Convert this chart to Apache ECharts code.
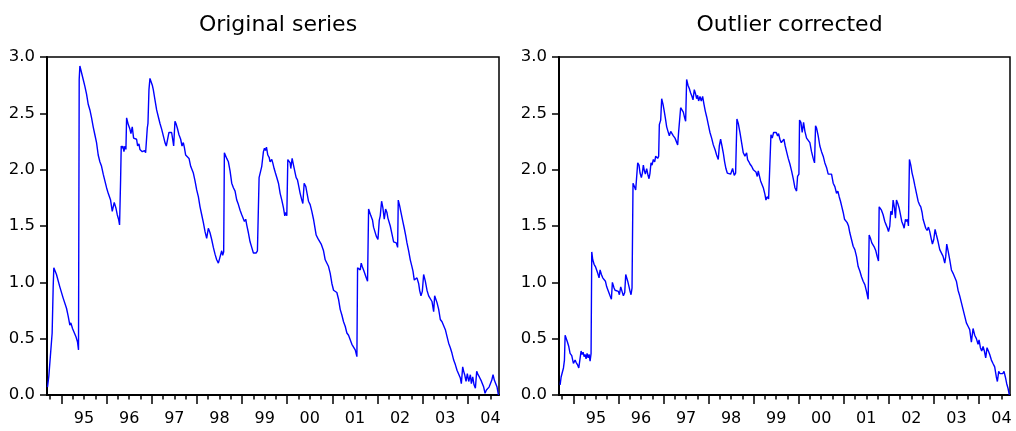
<!DOCTYPE html>
<html>
<head>
<meta charset="utf-8">
<script src="https://cdn.jsdelivr.net/npm/echarts@6/dist/echarts.min.js"></script>
<style>
html,body{margin:0;padding:0;background:#fff;}
#chart{width:1016px;height:431px;}
</style>
</head>
<body>
<div id="chart"></div>
<script>
// ---- Data (decimal years, values) ----
const panelTitles = ['Original series', 'Outlier corrected'];
const yearLabels = ['95','96','97','98','99','00','01','02','03','04'];
const firstYear = 1995;
const yTickLabels = ['0.0','0.5','1.0','1.5','2.0','2.5','3.0'];

const origTime = [
1994.691,1994.721,1994.743,1994.794,1994.817,1994.831,1994.890,1994.964,1995.038,1995.112,
1995.149,1995.186,1995.208,1995.245,1995.275,1995.319,1995.356,1995.378,1995.393,1995.408,
1995.445,1995.482,1995.519,1995.556,1995.593,1995.630,1995.667,1995.703,1995.740,1995.777,
1995.814,1995.851,1995.888,1995.925,1995.962,1995.999,1996.036,1996.058,1996.088,1996.125,
1996.169,1996.184,1996.206,1996.236,1996.265,1996.287,1996.310,1996.324,1996.347,1996.361,
1996.384,1996.406,1996.428,1996.443,1996.480,1996.516,1996.539,1996.568,1996.598,1996.627,
1996.664,1996.687,1996.716,1996.738,1996.760,1996.790,1996.812,1996.842,1996.864,1996.886,
1996.901,1996.916,1996.938,1996.960,1996.982,1997.012,1997.034,1997.071,1997.108,1997.145,
1997.182,1997.219,1997.256,1997.293,1997.322,1997.352,1997.381,1997.418,1997.440,1997.463,
1997.485,1997.514,1997.536,1997.566,1997.603,1997.640,1997.670,1997.699,1997.721,1997.751,
1997.788,1997.825,1997.862,1997.899,1997.921,1997.958,1997.995,1998.032,1998.069,1998.106,
1998.143,1998.180,1998.216,1998.253,1998.290,1998.327,1998.364,1998.401,1998.438,1998.475,
1998.512,1998.549,1998.571,1998.593,1998.608,1998.638,1998.660,1998.697,1998.734,1998.771,
1998.808,1998.845,1998.882,1998.919,1998.956,1998.993,1999.015,1999.052,1999.081,1999.103,
1999.140,1999.177,1999.214,1999.251,1999.288,1999.310,1999.340,1999.362,
1999.377,1999.414,1999.436,1999.473,1999.496,1999.518,1999.540,1999.570,1999.599,1999.621,
1999.658,1999.680,1999.710,1999.739,1999.769,1999.806,1999.843,1999.880,1999.917,1999.946,
1999.969,1999.991,2000.013,2000.035,2000.065,2000.079,2000.109,2000.139,2000.176,2000.198,
2000.227,2000.257,2000.286,2000.323,2000.346,2000.375,2000.412,2000.434,2000.471,2000.508,
2000.545,2000.582,2000.641,2000.678,2000.715,2000.752,2000.804,2000.841,2000.878,2000.915,
2000.952,2000.989,2001.026,2001.062,2001.099,2001.136,2001.173,2001.210,2001.247,2001.284,
2001.321,2001.358,2001.395,2001.432,2001.469,2001.506,2001.543,2001.558,2001.587,2001.617,
2001.639,2001.661,2001.691,2001.720,2001.750,2001.779,2001.802,2001.824,2001.853,2001.890,
2001.912,2001.942,2001.972,2002.009,2002.038,2002.060,2002.090,2002.119,2002.149,2002.179,
2002.208,2002.230,2002.260,2002.282,2002.319,2002.356,2002.393,2002.415,2002.445,2002.459,
2002.489,2002.519,2002.555,2002.592,2002.622,2002.652,2002.689,2002.725,2002.762,2002.785,
2002.814,2002.844,2002.873,2002.910,2002.932,2002.962,2002.992,2003.021,2003.058,2003.095,
2003.132,2003.169,2003.206,2003.243,2003.265,2003.295,2003.317,2003.354,2003.391,2003.428,
2003.465,2003.502,2003.538,2003.575,2003.612,2003.649,2003.686,2003.723,2003.760,2003.797,
2003.834,2003.856,2003.886,2003.908,2003.930,2003.960,2003.989,2004.019,2004.056,2004.078,
2004.108,2004.137,2004.167,2004.196,2004.226,2004.255,2004.292,2004.322,2004.351,2004.381,
2004.411,2004.440,2004.470,2004.499,2004.529,2004.558,2004.588,2004.618,2004.647,2004.677
];
const origValue = [
0.07,0.17,0.17,0.55,0.96,1.13,1.07,0.96,0.86,0.77,
0.70,0.62,0.64,0.59,0.58,0.52,0.47,0.40,2.80,2.92,
2.86,2.80,2.74,2.67,2.58,2.53,2.46,2.38,2.31,2.24,
2.13,2.07,2.03,1.96,1.90,1.84,1.79,1.78,1.73,1.63,
1.71,1.70,1.66,1.60,1.56,1.51,1.91,2.21,2.19,2.21,
2.16,2.21,2.18,2.46,2.40,2.36,2.32,2.38,2.28,2.29,
2.27,2.21,2.23,2.18,2.17,2.16,2.15,2.17,2.15,2.14,
2.37,2.41,2.71,2.81,2.80,2.75,2.71,2.62,2.53,2.47,
2.41,2.36,2.30,2.24,2.21,2.20,2.33,2.34,2.33,2.27,
2.21,2.43,2.41,2.37,2.31,2.27,2.21,2.24,2.20,2.13,
2.12,2.10,2.03,2.02,1.97,1.90,1.82,1.76,1.67,1.60,
1.53,1.45,1.39,1.48,1.44,1.38,1.31,1.25,1.20,1.17,
1.18,1.28,1.24,1.27,2.15,2.16,2.10,2.07,1.99,1.88,
1.84,1.81,1.73,1.69,1.64,1.60,1.60,1.54,1.56,1.51,
1.44,1.36,1.31,1.26,1.27,1.26,1.28,1.28,
1.93,1.94,2.03,2.16,2.19,2.17,2.20,2.13,2.11,2.07,
2.09,2.06,2.01,1.97,1.93,1.88,1.79,1.73,1.66,1.59,
1.62,1.59,2.09,2.10,2.06,2.01,2.10,2.04,1.97,1.93,
1.91,1.85,1.79,1.73,1.70,1.88,1.85,1.80,1.72,1.69,
1.63,1.56,1.42,1.39,1.39,1.34,1.28,1.20,1.19,1.14,
1.08,0.99,0.93,0.92,0.91,0.85,0.76,0.71,0.65,0.61,
0.55,0.53,0.49,0.45,0.44,0.40,0.34,1.13,1.14,1.11,
1.17,1.14,1.11,1.10,1.04,1.01,1.65,1.64,1.59,1.55,
1.49,1.48,1.41,1.38,1.55,1.59,1.72,1.66,1.56,1.65,
1.62,1.57,1.56,1.50,1.43,1.36,1.36,1.35,1.31,1.73,
1.68,1.62,1.55,1.48,1.42,1.35,1.28,1.20,1.14,1.10,
1.02,1.01,1.04,0.99,0.93,0.88,0.92,1.07,1.01,0.93,
0.88,0.88,0.83,0.74,0.88,0.88,0.82,0.76,0.67,0.65,
0.64,0.58,0.52,0.46,0.42,0.37,0.31,0.27,0.22,0.22,
0.15,0.10,0.25,0.21,0.18,0.12,0.19,0.12,0.18,0.10,
0.16,0.09,0.06,0.21,0.18,0.16,0.13,0.10,0.07,0.015,
0.045,0.06,0.07,0.10,0.13,0.18,0.13,0.10,0.07,0.00
];

const corrTime = [
1994.705,1994.727,1994.749,1994.779,1994.801,1994.816,1994.838,1994.867,1994.897,1994.926,
1994.963,1995.000,1995.037,1995.059,1995.089,1995.119,1995.141,1995.170,1995.193,1995.215,
1995.237,1995.259,1995.281,1995.303,1995.326,1995.348,1995.370,1995.392,1995.407,1995.429,
1995.459,1995.488,1995.518,1995.540,1995.569,1995.592,1995.621,1995.651,1995.680,1995.710,
1995.739,1995.776,1995.813,1995.843,1995.865,1995.902,1995.924,1995.961,1995.998,1996.020,
1996.050,1996.079,1996.109,1996.139,1996.161,1996.183,1996.205,1996.235,1996.257,1996.279,
1996.301,1996.323,1996.353,1996.382,1996.405,1996.427,1996.456,1996.479,1996.508,1996.530,
1996.552,1996.575,1996.597,1996.626,1996.656,1996.678,1996.700,1996.722,1996.745,1996.774,
1996.804,1996.826,1996.848,1996.870,1996.892,1996.907,1996.937,1996.959,1996.989,1997.011,
1997.040,1997.070,1997.099,1997.129,1997.159,1997.188,1997.218,1997.255,1997.292,1997.314,
1997.336,1997.351,1997.380,1997.410,1997.439,1997.469,1997.491,1997.513,1997.543,1997.572,
1997.602,1997.632,1997.654,1997.683,1997.713,1997.735,1997.757,1997.779,1997.809,1997.838,
1997.868,1997.898,1997.927,1997.957,1997.994,1998.031,1998.068,1998.105,1998.142,1998.178,
1998.215,1998.238,1998.267,1998.297,1998.326,1998.356,1998.385,1998.415,1998.445,1998.489,
1998.533,1998.570,1998.600,1998.629,1998.659,1998.696,1998.733,1998.770,1998.807,1998.844,
1998.866,1998.895,1998.918,1998.955,1998.992,1999.022,1999.051,1999.081,1999.103,1999.125,
1999.155,1999.184,1999.214,1999.251,1999.273,1999.302,1999.332,1999.362,1999.384,1999.413,
1999.443,1999.472,1999.502,1999.532,1999.554,1999.583,1999.613,1999.642,1999.672,1999.701,
1999.731,1999.768,1999.805,1999.842,1999.879,1999.916,1999.953,1999.975,2000.005,2000.019,
2000.049,2000.078,2000.108,2000.138,2000.175,2000.211,2000.248,2000.285,2000.322,2000.352,
2000.374,2000.396,2000.433,2000.470,2000.507,2000.544,2000.581,2000.618,2000.655,2000.692,
2000.729,2000.766,2000.803,2000.840,2000.869,2000.899,2000.928,2000.958,2000.988,2001.017,
2001.047,2001.076,2001.106,2001.135,2001.172,2001.209,2001.246,2001.283,2001.320,2001.357,
2001.394,2001.431,2001.468,2001.505,2001.542,2001.564,2001.594,2001.623,2001.653,2001.682,
2001.712,2001.741,2001.771,2001.786,2001.808,2001.837,2001.874,2001.911,2001.941,2001.971,
2001.993,2002.022,2002.044,2002.074,2002.096,2002.126,2002.148,2002.170,2002.200,2002.229,
2002.259,2002.288,2002.318,2002.340,2002.370,2002.392,2002.414,2002.436,2002.458,2002.488,
2002.517,2002.547,2002.577,2002.614,2002.651,2002.680,2002.710,2002.739,2002.761,2002.791,
2002.820,2002.850,2002.880,2002.909,2002.946,2002.968,2002.998,2003.027,2003.057,2003.094,
2003.131,2003.168,2003.205,2003.242,2003.264,2003.286,2003.316,2003.353,2003.390,2003.427,
2003.464,2003.500,2003.537,2003.574,2003.611,2003.648,2003.685,2003.722,2003.759,2003.796,
2003.833,2003.870,2003.907,2003.944,2003.981,2004.003,2004.033,2004.062,2004.092,2004.121,
2004.151,2004.180,2004.210,2004.240,2004.277,2004.313,2004.350,2004.387,2004.410,2004.439,
2004.469,2004.498,2004.528,2004.557,2004.587,2004.617,2004.646,2004.676
];
const corrValue = [
0.09,0.16,0.15,0.24,0.31,0.53,0.54,0.47,0.43,0.37,
0.35,0.28,0.31,0.29,0.27,0.24,0.25,0.39,0.36,0.38,
0.34,0.36,0.32,0.37,0.33,0.36,0.30,0.37,1.27,1.20,
1.16,1.14,1.13,1.08,1.04,1.11,1.07,1.04,1.03,1.01,
0.96,0.92,0.88,0.85,1.00,0.95,0.93,0.93,0.92,0.89,
0.96,0.92,0.88,0.91,1.07,1.07,1.01,0.96,0.92,0.89,
0.95,1.88,1.85,1.82,1.81,2.06,2.04,1.97,1.93,1.97,
2.04,1.99,1.96,2.01,1.95,1.92,1.97,2.06,2.04,2.09,
2.07,2.12,2.12,2.10,2.12,2.40,2.44,2.63,2.58,2.53,
2.46,2.38,2.34,2.30,2.34,2.34,2.30,2.28,2.27,2.22,
2.34,2.35,2.55,2.55,2.51,2.46,2.43,2.80,2.75,2.72,
2.68,2.65,2.62,2.71,2.67,2.63,2.66,2.61,2.65,2.61,
2.65,2.58,2.52,2.47,2.40,2.33,2.28,2.22,2.18,2.13,
2.09,2.21,2.27,2.21,2.15,2.07,2.01,1.97,1.96,1.96,
2.01,1.95,1.97,2.45,2.41,2.33,2.24,2.15,2.12,2.15,
2.09,2.07,2.05,2.03,2.00,2.01,1.98,1.94,1.99,1.95,
1.90,1.90,1.84,1.78,1.73,1.76,1.74,1.73,2.31,2.28,
2.33,2.34,2.33,2.30,2.32,2.27,2.24,2.24,2.27,2.21,
2.16,2.10,2.05,1.99,1.92,1.84,1.81,1.94,1.96,2.44,
2.42,2.33,2.42,2.34,2.28,2.27,2.24,2.16,2.10,2.06,
2.39,2.37,2.30,2.21,2.16,2.12,2.06,2.02,1.96,1.97,
1.96,1.88,1.85,1.79,1.81,1.76,1.72,1.67,1.62,1.56,
1.57,1.53,1.50,1.44,1.38,1.32,1.29,1.23,1.14,1.10,
1.05,1.01,0.98,0.92,0.85,1.42,1.39,1.35,1.36,1.31,
1.28,1.23,1.19,1.67,1.68,1.64,1.60,1.54,1.51,1.48,
1.45,1.50,1.63,1.60,1.73,1.66,1.57,1.73,1.70,1.66,
1.60,1.54,1.51,1.48,1.56,1.54,1.56,1.50,2.09,2.04,
1.97,1.92,1.86,1.79,1.72,1.69,1.67,1.62,1.56,1.55,
1.48,1.46,1.49,1.45,1.38,1.34,1.38,1.47,1.42,1.36,
1.29,1.29,1.23,1.17,1.23,1.34,1.28,1.20,1.11,1.08,
1.07,1.01,0.93,0.88,0.82,0.76,0.70,0.64,0.61,0.58,
0.47,0.59,0.53,0.50,0.45,0.49,0.42,0.39,0.43,0.39,
0.33,0.42,0.39,0.36,0.31,0.28,0.25,0.16,0.12,0.21,
0.19,0.19,0.19,0.21,0.16,0.10,0.06,0.00
];

// ---- Build chart ----
const FONT = 'DejaVu Sans';
const xMin = 1994.68, xMax = 2004.69;
const yearTicks = yearLabels.map((s, i) => firstYear + i);
const labelPos = yearLabels.map((s, i) => firstYear + i + 0.5);
const quarterTicks = [];
for (let y = firstYear - 1; y <= firstYear + yearLabels.length; y++) {
  [0, 0.25, 0.5, 0.75].forEach(q => { const v = y + q; if (v >= xMin && v <= xMax) quarterTicks.push(v); });
}
const zip = (t, v) => t.map((x, i) => [x, v[i]]);
const seriesData = [zip(origTime, origValue), zip(corrTime, corrValue)];

const grids = [
  {left: 47, top: 57, width: 452, height: 338},
  {left: 559, top: 57, width: 451, height: 338}
];
const gridOpts = grids.map(g => Object.assign({show: true, borderColor: '#000', borderWidth: 1.5, backgroundColor: 'transparent'}, g));

const xAxes = [], yAxes = [], series = [], titles = [];
grids.forEach((g, gi) => {
  xAxes.push({
    type: 'value', gridIndex: gi, min: xMin, max: xMax, position: 'bottom',
    axisLine: {show: true, lineStyle: {color: '#000', width: 2}},
    axisTick: {show: true, customValues: yearTicks, length: 9, lineStyle: {color: '#000', width: 1.5}},
    axisLabel: {show: true, customValues: labelPos, margin: 16,
      formatter: v => yearLabels[Math.round(v - 0.5) - firstYear],
      color: '#000', fontSize: 16, fontFamily: FONT},
    splitLine: {show: false}
  });
  xAxes.push({
    type: 'value', gridIndex: gi, min: xMin, max: xMax, position: 'bottom',
    axisLine: {show: false},
    axisTick: {show: true, customValues: quarterTicks, length: 4.5, lineStyle: {color: '#000', width: 1.5}},
    axisLabel: {show: false},
    splitLine: {show: false}
  });
  yAxes.push({
    type: 'value', gridIndex: gi, min: 0, max: 3, interval: 0.5,
    axisLine: {show: true, lineStyle: {color: '#000', width: 2}},
    axisTick: {show: true, length: 7, lineStyle: {color: '#000', width: 1.5}},
    axisLabel: {margin: 12, color: '#000', fontSize: 16.5, fontFamily: FONT,
      formatter: v => yTickLabels[Math.round(v * 2)]},
    splitLine: {show: false}
  });
  series.push({
    type: 'line', xAxisIndex: gi * 2, yAxisIndex: gi, data: seriesData[gi],
    showSymbol: false, symbol: 'none', animation: false,
    lineStyle: {color: '#0000ff', width: 1.4}
  });
  titles.push({
    text: panelTitles[gi], left: g.left + g.width / 2, top: 9, textAlign: 'center',
    textStyle: {fontFamily: FONT, fontSize: 22, fontWeight: 'normal', color: '#000'}
  });
});

const chart = echarts.init(document.getElementById('chart'), null, {renderer: 'canvas'});
chart.setOption({
  animation: false,
  backgroundColor: '#fff',
  title: titles,
  grid: gridOpts,
  xAxis: xAxes,
  yAxis: yAxes,
  series: series
});
</script>
</body>
</html>
